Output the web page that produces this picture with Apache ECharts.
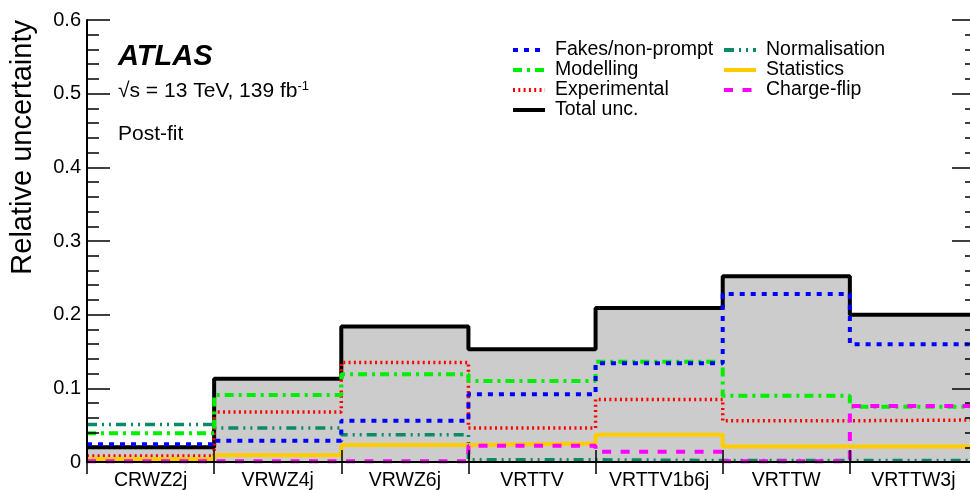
<!DOCTYPE html>
<html>
<head>
<meta charset="utf-8">
<script src="https://cdn.jsdelivr.net/npm/echarts@6/dist/echarts.min.js"></script>
<style>html,body{margin:0;padding:0;background:#fff;}#c{width:970px;height:490px;}</style>
</head>
<body>
<div id="c"></div>
<script>
const categories = ['CRWZ2j', 'VRWZ4j', 'VRWZ6j', 'VRTTV', 'VRTTV1b6j', 'VRTTW', 'VRTTW3j'];
const totalUnc = [0.020, 0.113, 0.184, 0.153, 0.209, 0.252, 0.200];
const fakes = [0.024, 0.029, 0.056, 0.092, 0.134, 0.228, 0.160];
const modelling = [0.039, 0.091, 0.119, 0.110, 0.136, 0.090, 0.075];
const experimental = [0.008, 0.068, 0.135, 0.046, 0.085, 0.056, 0.057];
const normalisation = [0.051, 0.046, 0.037, 0.003, 0.002, 0.002, 0.002];
const statistics = [0.004, 0.009, 0.023, 0.025, 0.037, 0.021, 0.021];
const chargeFlip = [0.001, 0.001, 0.001, 0.022, 0.014, 0.001, 0.076];

const FONT = '"Liberation Sans", Arial, Helvetica, sans-serif';

function steps(vals) {
  const pts = vals.map((v, i) => [i, v]);
  pts.push([vals.length, vals[vals.length - 1]]);
  return pts;
}

function lineSeries(name, vals, color, width, type, extra) {
  return Object.assign({
    name: name,
    type: 'line',
    xAxisIndex: 2,
    yAxisIndex: 0,
    step: 'end',
    symbol: 'none',
    data: steps(vals),
    lineStyle: { color: color, width: width, type: type },
    itemStyle: { color: color },
    emphasis: { disabled: true }
  }, extra || {});
}

const chart = echarts.init(document.getElementById('c'), null, { renderer: 'canvas' });

const legendCommon = {
  orient: 'vertical',
  top: 40,
  padding: 0,
  itemGap: 0,
  itemWidth: 32,
  itemHeight: 14,
  selectedMode: false,
  itemStyle: { opacity: 0 },
  lineStyle: { width: 4 },
  textStyle: { fontFamily: FONT, fontSize: 19.5, color: '#000', padding: [0, 0, 0, 5], lineHeight: 20 }
};

chart.setOption({
  animation: false,
  backgroundColor: '#fff',
  grid: { left: 87, width: 890, top: 20, bottom: 28, containLabel: false, outerBoundsMode: 'none' },
  legend: [
    Object.assign({}, legendCommon, { left: 511, data: ['Fakes/non-prompt', 'Modelling', 'Experimental', 'Total unc.'] }),
    Object.assign({}, legendCommon, { left: 722, data: ['Normalisation', 'Statistics', 'Charge-flip'] })
  ],
  xAxis: [
    {
      type: 'category', data: categories, position: 'bottom', boundaryGap: true, z: 5,
      axisLine: { show: true, lineStyle: { color: '#000', width: 2 } },
      axisTick: { show: true, inside: true, length: 12, lineStyle: { color: '#000', width: 1.5 } },
      axisLabel: { fontFamily: FONT, fontSize: 19.5, color: '#000', margin: 9, interval: 0 },
      splitLine: { show: false }
    },
    {
      type: 'category', data: categories, position: 'top', boundaryGap: true, z: 5,
      axisLine: { show: true, lineStyle: { color: '#000', width: 2 } },
      axisTick: { show: true, inside: true, length: 12, lineStyle: { color: '#000', width: 1.5 } },
      axisLabel: { show: false },
      splitLine: { show: false }
    },
    {
      type: 'value', min: 0, max: categories.length, show: false
    }
  ],
  yAxis: [
    {
      type: 'value', min: 0, max: 0.6, interval: 0.1, position: 'left', z: 5,
      axisLine: { show: true, lineStyle: { color: '#000', width: 2 } },
      axisTick: { show: true, inside: true, length: 23, lineStyle: { color: '#000', width: 1.5 } },
      minorTick: { show: true, splitNumber: 5, length: 12, lineStyle: { color: '#000', width: 1.5 } },
      axisLabel: { fontFamily: FONT, fontSize: 20, color: '#000', margin: 6 },
      splitLine: { show: false }, minorSplitLine: { show: false }
    },
    {
      type: 'value', min: 0, max: 0.6, interval: 0.1, position: 'right', z: 5,
      axisLine: { show: true, lineStyle: { color: '#000', width: 2 } },
      axisTick: { show: true, inside: true, length: 25, lineStyle: { color: '#000', width: 1.5 } },
      minorTick: { show: true, splitNumber: 5, length: 12, lineStyle: { color: '#000', width: 1.5 } },
      axisLabel: { show: false },
      splitLine: { show: false }, minorSplitLine: { show: false }
    }
  ],
  graphic: [
    {
      type: 'text', x: 23, y: 20, rotation: Math.PI / 2,
      style: { text: 'Relative uncertainty', fontFamily: FONT, fontSize: 29, fill: '#000', align: 'right', verticalAlign: 'middle' }
    },
    {
      type: 'text', x: 118, y: 57,
      style: { text: 'ATLAS', fontFamily: FONT, fontSize: 29, fontWeight: 'bold', fontStyle: 'italic', fill: '#000', verticalAlign: 'middle' }
    },
    {
      type: 'text', x: 118, y: 91,
      style: {
        text: '{r|√s = 13 TeV, 139 fb}{s|-1}', verticalAlign: 'middle', fill: '#000',
        rich: {
          r: { fontFamily: FONT, fontSize: 21, fill: '#000' },
          s: { fontFamily: FONT, fontSize: 13, fill: '#000', padding: [0, 0, 10, 0] }
        }
      }
    },
    {
      type: 'text', x: 118, y: 134,
      style: { text: 'Post-fit', fontFamily: FONT, fontSize: 21, fill: '#000', verticalAlign: 'middle' }
    }
  ],
  series: [
    lineSeries('Total unc.', totalUnc, '#000000', 4, 'solid', { areaStyle: { color: '#cccccc', opacity: 1 } }),
    lineSeries('Normalisation', normalisation, '#0a8a68', 3.5, [10, 5, 2, 5, 2, 5]),
    lineSeries('Experimental', experimental, '#ff0000', 3.5, [2, 3.3]),
    lineSeries('Modelling', modelling, '#00ee00', 4, [9, 5, 3, 5]),
    lineSeries('Statistics', statistics, '#ffcc00', 4, 'solid'),
    lineSeries('Charge-flip', chargeFlip, '#ff00ff', 4, [9, 9.5]),
    lineSeries('Fakes/non-prompt', fakes, '#0000ff', 4, [5, 6])
  ]
});
</script>
</body>
</html>
